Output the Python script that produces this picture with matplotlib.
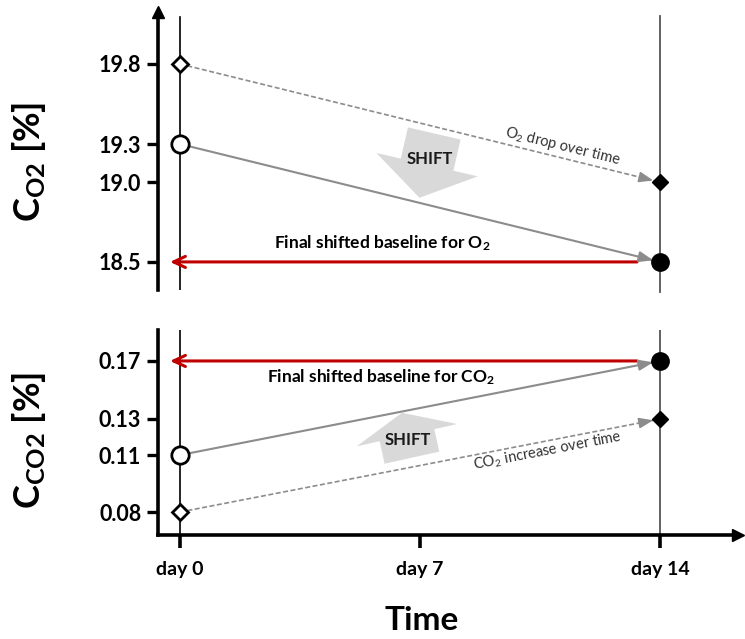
import numpy as np
import matplotlib
matplotlib.use('Agg')
import matplotlib.pyplot as plt
import matplotlib.transforms as mtransforms
from matplotlib.patches import Polygon

plt.rcParams['font.family'] = ['Lato', 'DejaVu Sans']
plt.rcParams['mathtext.fontset'] = 'custom'
plt.rcParams['mathtext.rm'] = 'Lato'
plt.rcParams['mathtext.it'] = 'Lato:italic'
plt.rcParams['mathtext.bf'] = 'Lato:bold'

# 데이터
days = [0, 14]
day_ticks = [0, 7, 14]
day_labels = ['day 0', 'day 7', 'day 14']

o2_drift = [19.8, 19.0]      # 측정값 (점선, 다이아몬드)
o2_shifted = [19.3, 18.5]    # 보정 기준선 (실선, 원)
o2_ticks = [18.5, 19.0, 19.3, 19.8]

co2_drift = [0.08, 0.13]
co2_shifted = [0.11, 0.17]
co2_ticks = [0.08, 0.11, 0.13, 0.17]

# 눈금 간격 (축 높이 비율, 도식용 비선형 축)
o2_tick_frac = [0.101, 0.388, 0.525, 0.813]
co2_tick_frac = [0.112, 0.390, 0.566, 0.849]

W, H = 745, 639
fig = plt.figure(figsize=(W / 100, H / 100), dpi=100)

RED = '#c00000'
GRAY = '#8c8c8c'


def schematic_scale(ticks, fracs):
    t = np.asarray(ticks, float)
    f = np.asarray(fracs, float)
    lo = (f[1] - f[0]) / (t[1] - t[0])
    hi = (f[-1] - f[-2]) / (t[-1] - t[-2])
    span = t[-1] - t[0]
    tx = np.r_[t[0] - span, t, t[-1] + span]
    fx = np.r_[f[0] - span * lo, f, f[-1] + span * hi]
    return (lambda v: np.interp(v, tx, fx)), (lambda p: np.interp(p, fx, tx))


def setup(ax, ticks, fracs):
    fwd, inv = schematic_scale(ticks, fracs)
    ax.set_yscale('function', functions=(fwd, inv))
    ax.set_ylim(inv(0.0), inv(1.0))
    ax.set_xlim(-0.642, 16.275)
    ax.set_yticks(ticks)
    ax.set_yticklabels([f'{v:.1f}' if v > 1 else f'{v:.2f}' for v in ticks],
                       fontsize=15.5, fontweight='bold')
    ax.minorticks_off()
    ax.tick_params(axis='y', direction='out', length=8, width=2.4, pad=4)
    for s in ['top', 'right']:
        ax.spines[s].set_visible(False)
    ax.spines['left'].set_linewidth(2.6)
    ax.patch.set_alpha(0)


def arrow_line(ax, p0, p1, ls, lw, shrink):
    # 선은 데이터 좌표로, 화살촉은 픽셀 기준으로 마커 앞에서 멈춤
    ax.plot([p0[0], p1[0]], [p0[1], p1[1]], ls=ls, lw=lw, color=GRAY, zorder=3,
            dashes=(3, 1.5) if ls == '--' else (None, None))
    a = ax.transData.transform(p0)
    b = ax.transData.transform(p1)
    d = (b - a) / np.hypot(*(b - a))
    tip = b - d * shrink
    ax.annotate('', xy=tip, xycoords='figure pixels',
                xytext=tip - d * 14, textcoords='figure pixels',
                arrowprops=dict(arrowstyle='-|>,head_length=0.85,head_width=0.32',
                                color=GRAY, lw=lw, shrinkA=0, shrinkB=0),
                zorder=4)
    return np.degrees(np.arctan2(*(b - a)[::-1])), a, b


def baseline_arrow(ax, value):
    tip = mtransforms.offset_copy(ax.transData, fig=fig, x=-10, y=0, units='dots')
    tail = mtransforms.offset_copy(ax.transData, fig=fig, x=-23, y=0, units='dots')
    ax.annotate('', xy=(days[0], value), xycoords=tip,
                xytext=(days[-1], value), textcoords=tail,
                arrowprops=dict(arrowstyle='->,head_length=0.85,head_width=0.4',
                                color=RED, lw=2.2, shrinkA=0, shrinkB=0),
                zorder=3)


def shift_arrow(ax, x, y, angle, length, head_len, body_w, head_w, text_off):
    cx, cy = ax.transData.transform((x, y))
    L, h, bw, hw = length, head_len, body_w / 2, head_w / 2
    pts = np.array([(0, -bw), (L - h, -bw), (L - h, -hw), (L, 0),
                    (L - h, hw), (L - h, bw), (0, bw)]) - [L / 2, 0]
    r = np.radians(angle)
    rot = np.array([[np.cos(r), -np.sin(r)], [np.sin(r), np.cos(r)]])
    pts = pts @ rot.T + [cx, cy]
    ax.add_patch(Polygon(pts, closed=True, facecolor='#d9d9d9', edgecolor='none',
                         transform=mtransforms.IdentityTransform(), zorder=1,
                         clip_on=False))
    ax.text(cx + text_off[0], cy + text_off[1], 'SHIFT', transform=mtransforms.IdentityTransform(),
            ha='center', va='center', fontsize=12, fontweight='bold', color='#1a1a1a', zorder=2)


def draw_markers(ax, drift, shifted):
    ax.plot(days[0], drift[0], 'D', ms=8.5, mfc='white', mec='black', mew=2, zorder=5)
    ax.plot(days[-1], drift[-1], 'D', ms=8.5, mfc='black', mec='black', zorder=5)
    ax.plot(days[0], shifted[0], 'o', ms=12.5, mfc='white', mec='black', mew=2, zorder=5)
    ax.plot(days[-1], shifted[-1], 'o', ms=12.5, mfc='black', mec='black', zorder=5)


# ---- O2 패널 ----
ax1 = fig.add_axes([158 / W, 1 - 290 / H, 580 / W, 278 / H])
setup(ax1, o2_ticks, o2_tick_frac)
ax1.spines['bottom'].set_visible(False)
ax1.set_xticks([])
ax1.plot(0, 1, '^', ms=9, color='black', transform=ax1.transAxes, clip_on=False)
ax1.axvline(days[0], ymin=0, ymax=0.982, color='black', lw=1.2, zorder=0)
ax1.axvline(days[-1], ymin=-0.007, ymax=0.986, color='#555555', lw=1.3, zorder=0, clip_on=False)

shift_arrow(ax1, 7.2, 19.13, -103, 66, 34, 54, 104, (3, 7))
ang, a, b = arrow_line(ax1, (days[0], o2_drift[0]), (days[-1], o2_drift[-1]), '--', 1.2, 7)
arrow_line(ax1, (days[0], o2_shifted[0]), (days[-1], o2_shifted[-1]), '-', 1.5, 7)
baseline_arrow(ax1, o2_shifted[-1])
draw_markers(ax1, o2_drift, o2_shifted)

# 라벨
p = a + (b - a) * (380 / 480)
ax1.text(p[0] + 3, p[1] + 11, 'O$_\\mathregular{2}$ drop over time', transform=mtransforms.IdentityTransform(),
         rotation=ang, rotation_mode='anchor', ha='center', va='center',
         fontsize=10.5, color='#333333')
ax1.annotate('Final shifted baseline for O$_\\mathregular{2}$', xy=(day_ticks[1], o2_shifted[-1]),
             xytext=(-38, 19), textcoords='offset pixels', ha='center', va='center',
             fontsize=12.5, fontweight='bold')

# ---- CO2 패널 ----
ax2 = fig.add_axes([158 / W, 1 - 535 / H, 580 / W, 205 / H])
setup(ax2, co2_ticks, co2_tick_frac)
ax2.spines['bottom'].set_linewidth(2.6)
ax2.plot(1, 0, '>', ms=9, color='black', transform=ax2.transAxes, clip_on=False)
ax2.set_xticks(day_ticks)
ax2.set_xticklabels(day_labels, fontsize=14, fontweight='bold')
ax2.tick_params(axis='x', direction='out', length=9, width=2.6, pad=10)
ax2.axvline(days[0], color='black', lw=1.2, zorder=0)
ax2.axvline(days[-1], color='#555555', lw=1.3, zorder=0)

shift_arrow(ax2, 6.62, 0.121, 102.5, 46, 23, 56, 103, (1, -5))
ang2, a2, b2 = arrow_line(ax2, (days[0], co2_drift[0]), (days[-1], co2_drift[-1]), '--', 1.2, 7)
arrow_line(ax2, (days[0], co2_shifted[0]), (days[-1], co2_shifted[-1]), '-', 1.5, 7)
baseline_arrow(ax2, co2_shifted[-1])
draw_markers(ax2, co2_drift, co2_shifted)

p2 = a2 + (b2 - a2) * (365 / 480)
ax2.text(p2[0] + 2, p2[1] - 10, 'CO$_\\mathregular{2}$ increase over time', transform=mtransforms.IdentityTransform(),
         rotation=ang2, rotation_mode='anchor', ha='center', va='center',
         fontsize=10.5, color='#333333')
ax2.annotate('Final shifted baseline for CO$_\\mathregular{2}$', xy=(day_ticks[1], co2_shifted[-1]),
             xytext=(-39, -16), textcoords='offset pixels', ha='center', va='center',
             fontsize=12.5, fontweight='bold')

# 축 제목
fig.text(29 / W, 1 - 162 / H, 'C$_\\mathregular{O2}$ [%]', rotation=90, ha='center', va='center',
         fontsize=26, fontweight='bold')
fig.text(29 / W, 1 - 440 / H, 'C$_\\mathregular{CO2}$ [%]', rotation=90, ha='center', va='center',
         fontsize=26, fontweight='bold')
fig.text(422 / W, 1 - 620 / H, 'Time', ha='center', va='center', fontsize=24, fontweight='bold')

fig.savefig('out.png', dpi=100)
